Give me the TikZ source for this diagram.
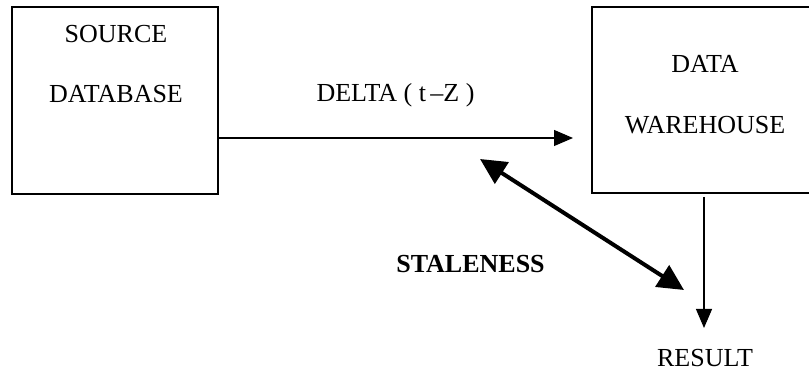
\documentclass[tikz,border=0pt]{standalone}
\usepackage{fontspec}
\setmainfont{Liberation Serif}
\usetikzlibrary{arrows.meta}
\begin{document}
\begin{tikzpicture}[x=1pt,y=1pt,
  box/.style={draw,line width=1.3pt,minimum width=#1,inner sep=0pt},
  lbl/.style={anchor=base,inner sep=0pt,font=\fontsize{26}{30}\selectfont},
  thin arrow/.style={line width=1.1pt,-{Triangle[length=19pt,width=16pt]}},
  big arrow/.style={line width=4pt,{Triangle[length=26pt,width=25pt]}-{Triangle[length=26pt,width=25pt]}}]
\useasboundingbox (0,0) rectangle (809,372);
\clip (0,0) rectangle (809,372);
\node[box=226pt,minimum height=186pt] (dw) at (705,272) {};
\node[box=206pt,minimum height=187pt] (src) at (115,271.5) {};
\node[lbl] (srct1) at (116,329) {SOURCE};
\node[lbl] (srct2) at (116,269) {DATABASE};
\node[lbl] (dwt1) at (705,299) {DATA};
\node[lbl] (dwt2) at (705,238) {WAREHOUSE};
\node[lbl] (delta) at (395.5,270) {DELTA ( t\,–Z )};
\node[lbl,font=\fontsize{26}{30}\selectfont\bfseries] (stale) at (470.5,99) {STALENESS};
\node[lbl] (res) at (705,5) {RESULT};
\coordinate (dtip) at (573,234);
\coordinate (sa) at (480,213);
\coordinate (sb) at (684,82);
\coordinate (rtop) at (704,175);
\coordinate (rtip) at (704,44);
\draw[thin arrow] (src.east |- dtip) -- (dtip);
\draw[big arrow] (sa) -- (sb);
\draw[thin arrow] (rtop) -- (rtip);
\end{tikzpicture}
\end{document}
